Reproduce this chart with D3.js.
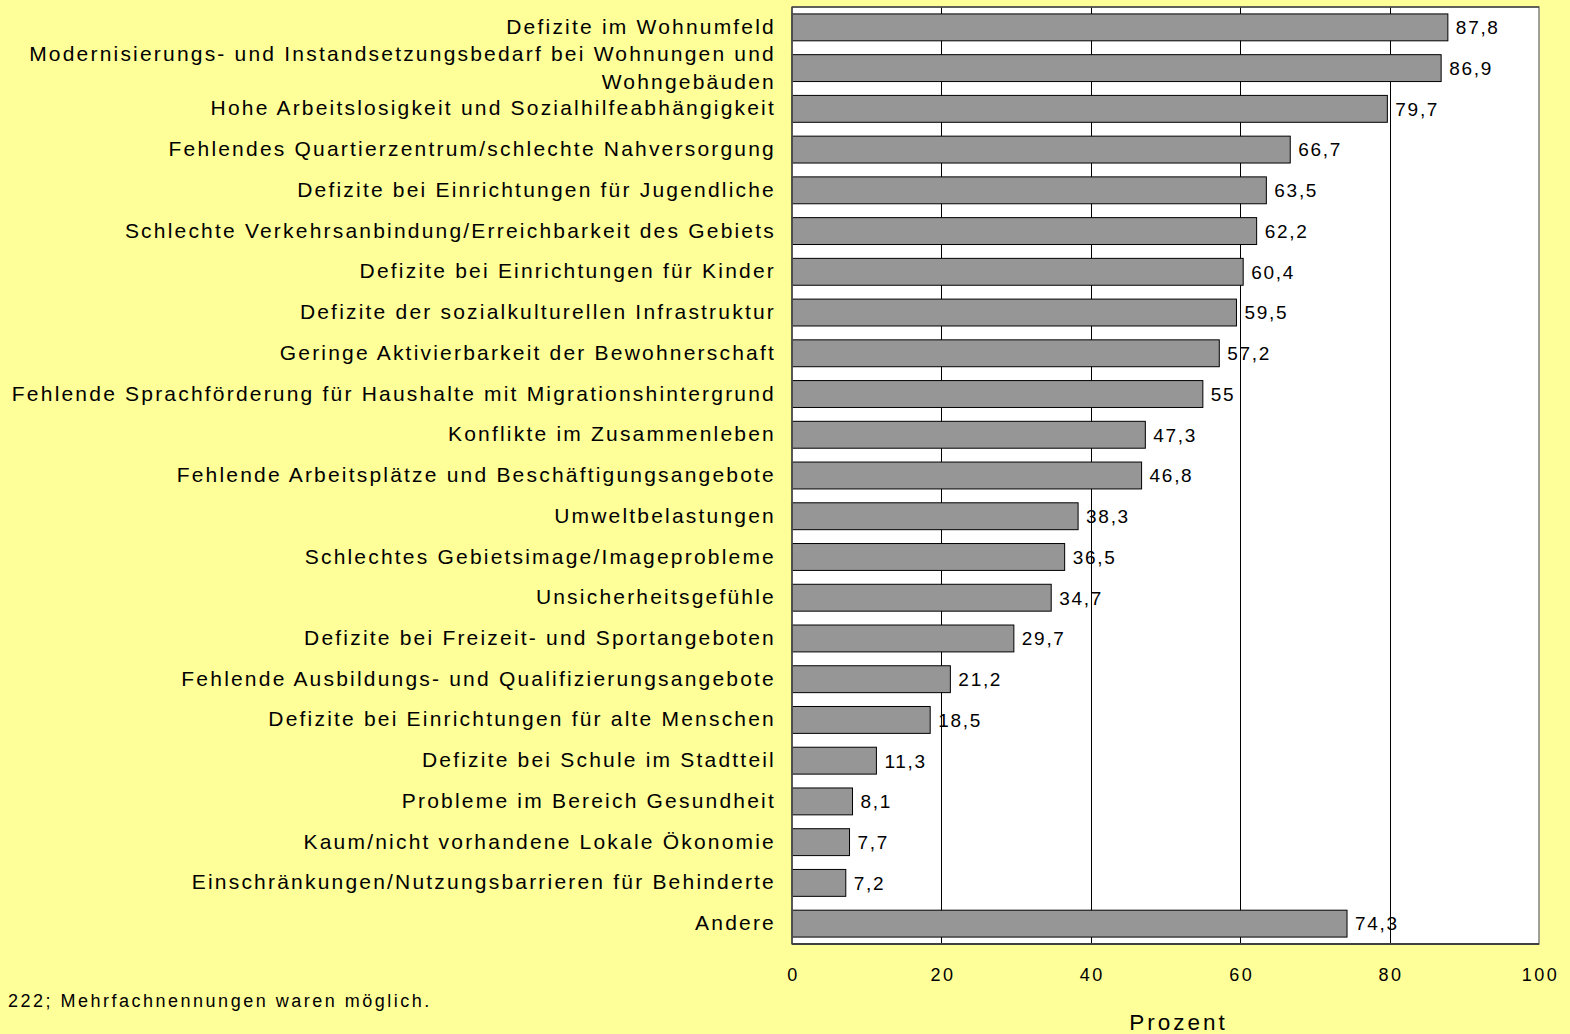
<!DOCTYPE html>
<meta charset="utf-8">
<style>
body { margin: 0; background: #ffff99; }
svg { display: block; font-family: "Liberation Sans", Arial, sans-serif; }
.cat text { font-size: 21px; letter-spacing: 2.2px; fill: #000; }
.val { font-size: 19px; letter-spacing: 1.7px; fill: #000; }
.tick text { font-size: 18px; letter-spacing: 2.5px; }
</style>
<svg width="1570" height="1034"></svg>
<script src="https://d3js.org/d3.v7.min.js"></script>
<script>

var categories = [
  "Defizite im Wohnumfeld",
  "Modernisierungs- und Instandsetzungsbedarf bei Wohnungen und\nWohngebäuden",
  "Hohe Arbeitslosigkeit und Sozialhilfeabhängigkeit",
  "Fehlendes Quartierzentrum/schlechte Nahversorgung",
  "Defizite bei Einrichtungen für Jugendliche",
  "Schlechte Verkehrsanbindung/Erreichbarkeit des Gebiets",
  "Defizite bei Einrichtungen für Kinder",
  "Defizite der sozialkulturellen Infrastruktur",
  "Geringe Aktivierbarkeit der Bewohnerschaft",
  "Fehlende Sprachförderung für Haushalte mit Migrationshintergrund",
  "Konflikte im Zusammenleben",
  "Fehlende Arbeitsplätze und Beschäftigungsangebote",
  "Umweltbelastungen",
  "Schlechtes Gebietsimage/Imageprobleme",
  "Unsicherheitsgefühle",
  "Defizite bei Freizeit- und Sportangeboten",
  "Fehlende Ausbildungs- und Qualifizierungsangebote",
  "Defizite bei Einrichtungen für alte Menschen",
  "Defizite bei Schule im Stadtteil",
  "Probleme im Bereich Gesundheit",
  "Kaum/nicht vorhandene Lokale Ökonomie",
  "Einschränkungen/Nutzungsbarrieren für Behinderte",
  "Andere"
];

var values = [87.8, 86.9, 79.7, 66.7, 63.5, 62.2, 60.4, 59.5, 57.2, 55, 47.3, 46.8,
              38.3, 36.5, 34.7, 29.7, 21.2, 18.5, 11.3, 8.1, 7.7, 7.2, 74.3];

var xTicks = [0, 20, 40, 60, 80, 100];
var axisTitle = "Prozent";
var footnote = "222; Mehrfachnennungen waren möglich.";

var data = categories.map(function(c, i) { return {label: c, value: values[i]}; });

var svg = d3.select("svg");
var plotL = 792, plotR = 1539, plotT = 7, plotB = 944;

var x = d3.scaleLinear().domain([0, 100]).range([plotL, plotR]);
var y = d3.scaleBand()
    .domain(d3.range(data.length))
    .range([plotT, plotB])
    .paddingInner(0.34)
    .paddingOuter(0.17);

var fmt = function(v) { return String(v).replace(".", ","); };

// plot area
svg.append("rect")
    .attr("x", plotL).attr("y", plotT)
    .attr("width", plotR - plotL).attr("height", plotB - plotT)
    .attr("fill", "#fff");

// gridlines
svg.append("g")
  .selectAll("line")
  .data(xTicks.filter(function(t) { return t > 0 && t < 100; }))
  .enter().append("line")
    .attr("x1", function(d) { return Math.round(x(d)) + 0.5; })
    .attr("x2", function(d) { return Math.round(x(d)) + 0.5; })
    .attr("y1", plotT).attr("y2", plotB)
    .attr("stroke", "#000").attr("stroke-width", 1);

// bars
svg.append("g")
  .selectAll("rect")
  .data(data)
  .enter().append("rect")
    .attr("x", x(0))
    .attr("y", function(d, i) { return y(i); })
    .attr("width", function(d) { return x(d.value) - x(0); })
    .attr("height", y.bandwidth())
    .attr("fill", "#969696")
    .attr("stroke", "#000")
    .attr("stroke-width", 1);

// value labels
svg.append("g")
  .selectAll("text")
  .data(data)
  .enter().append("text")
    .attr("class", "val")
    .attr("x", function(d) { return x(d.value) + 8; })
    .attr("y", function(d, i) { return y(i) + y.bandwidth() / 2; })
    .attr("dy", "0.36em")
    .text(function(d) { return fmt(d.value); });

// frame
svg.append("rect")
    .attr("x", plotL).attr("y", plotT)
    .attr("width", plotR - plotL).attr("height", plotB - plotT)
    .attr("fill", "none")
    .attr("stroke", "#808080").attr("stroke-width", 1.5);
svg.append("line")
    .attr("x1", plotL).attr("x2", plotR).attr("y1", plotT).attr("y2", plotT)
    .attr("stroke", "#202020").attr("stroke-width", 1);
svg.append("line")
    .attr("x1", plotL).attr("x2", plotR).attr("y1", plotB).attr("y2", plotB)
    .attr("stroke", "#404040").attr("stroke-width", 2);
svg.append("line")
    .attr("x1", plotL).attr("x2", plotL).attr("y1", plotT).attr("y2", plotB)
    .attr("stroke", "#404040").attr("stroke-width", 1.5);

// category labels
var cat = svg.append("g").attr("class", "cat")
  .selectAll("text")
  .data(data)
  .enter().append("text")
    .attr("text-anchor", "end")
    .attr("y", function(d, i) { return y(i) + y.bandwidth() / 2 - 1; });

cat.each(function(d) {
  var lines = d.label.split("\n");
  var t = d3.select(this);
  lines.forEach(function(l, k) {
    t.append("tspan")
      .attr("x", 776)
      .attr("dy", k === 0 ? (0.36 - (lines.length - 1) * 0.67) + "em" : "1.34em")
      .text(l);
  });
});

// x axis (labels only)
var axis = svg.append("g")
    .attr("transform", "translate(1," + (plotB + 31) + ")")
    .call(d3.axisBottom(x).tickValues(xTicks).tickSize(0).tickPadding(0));
axis.select(".domain").remove();
axis.selectAll("text").attr("fill", "#000").attr("dy", "0.36em");

svg.append("text")
    .attr("x", (plotL + plotR) / 2 + 13)
    .attr("y", 1030)
    .attr("text-anchor", "middle")
    .attr("font-size", 22.5)
    .attr("letter-spacing", "3px")
    .text(axisTitle);

svg.append("text")
    .attr("x", 8)
    .attr("y", 1007)
    .attr("font-size", 18)
    .attr("letter-spacing", "2.5px")
    .text(footnote);

</script>
